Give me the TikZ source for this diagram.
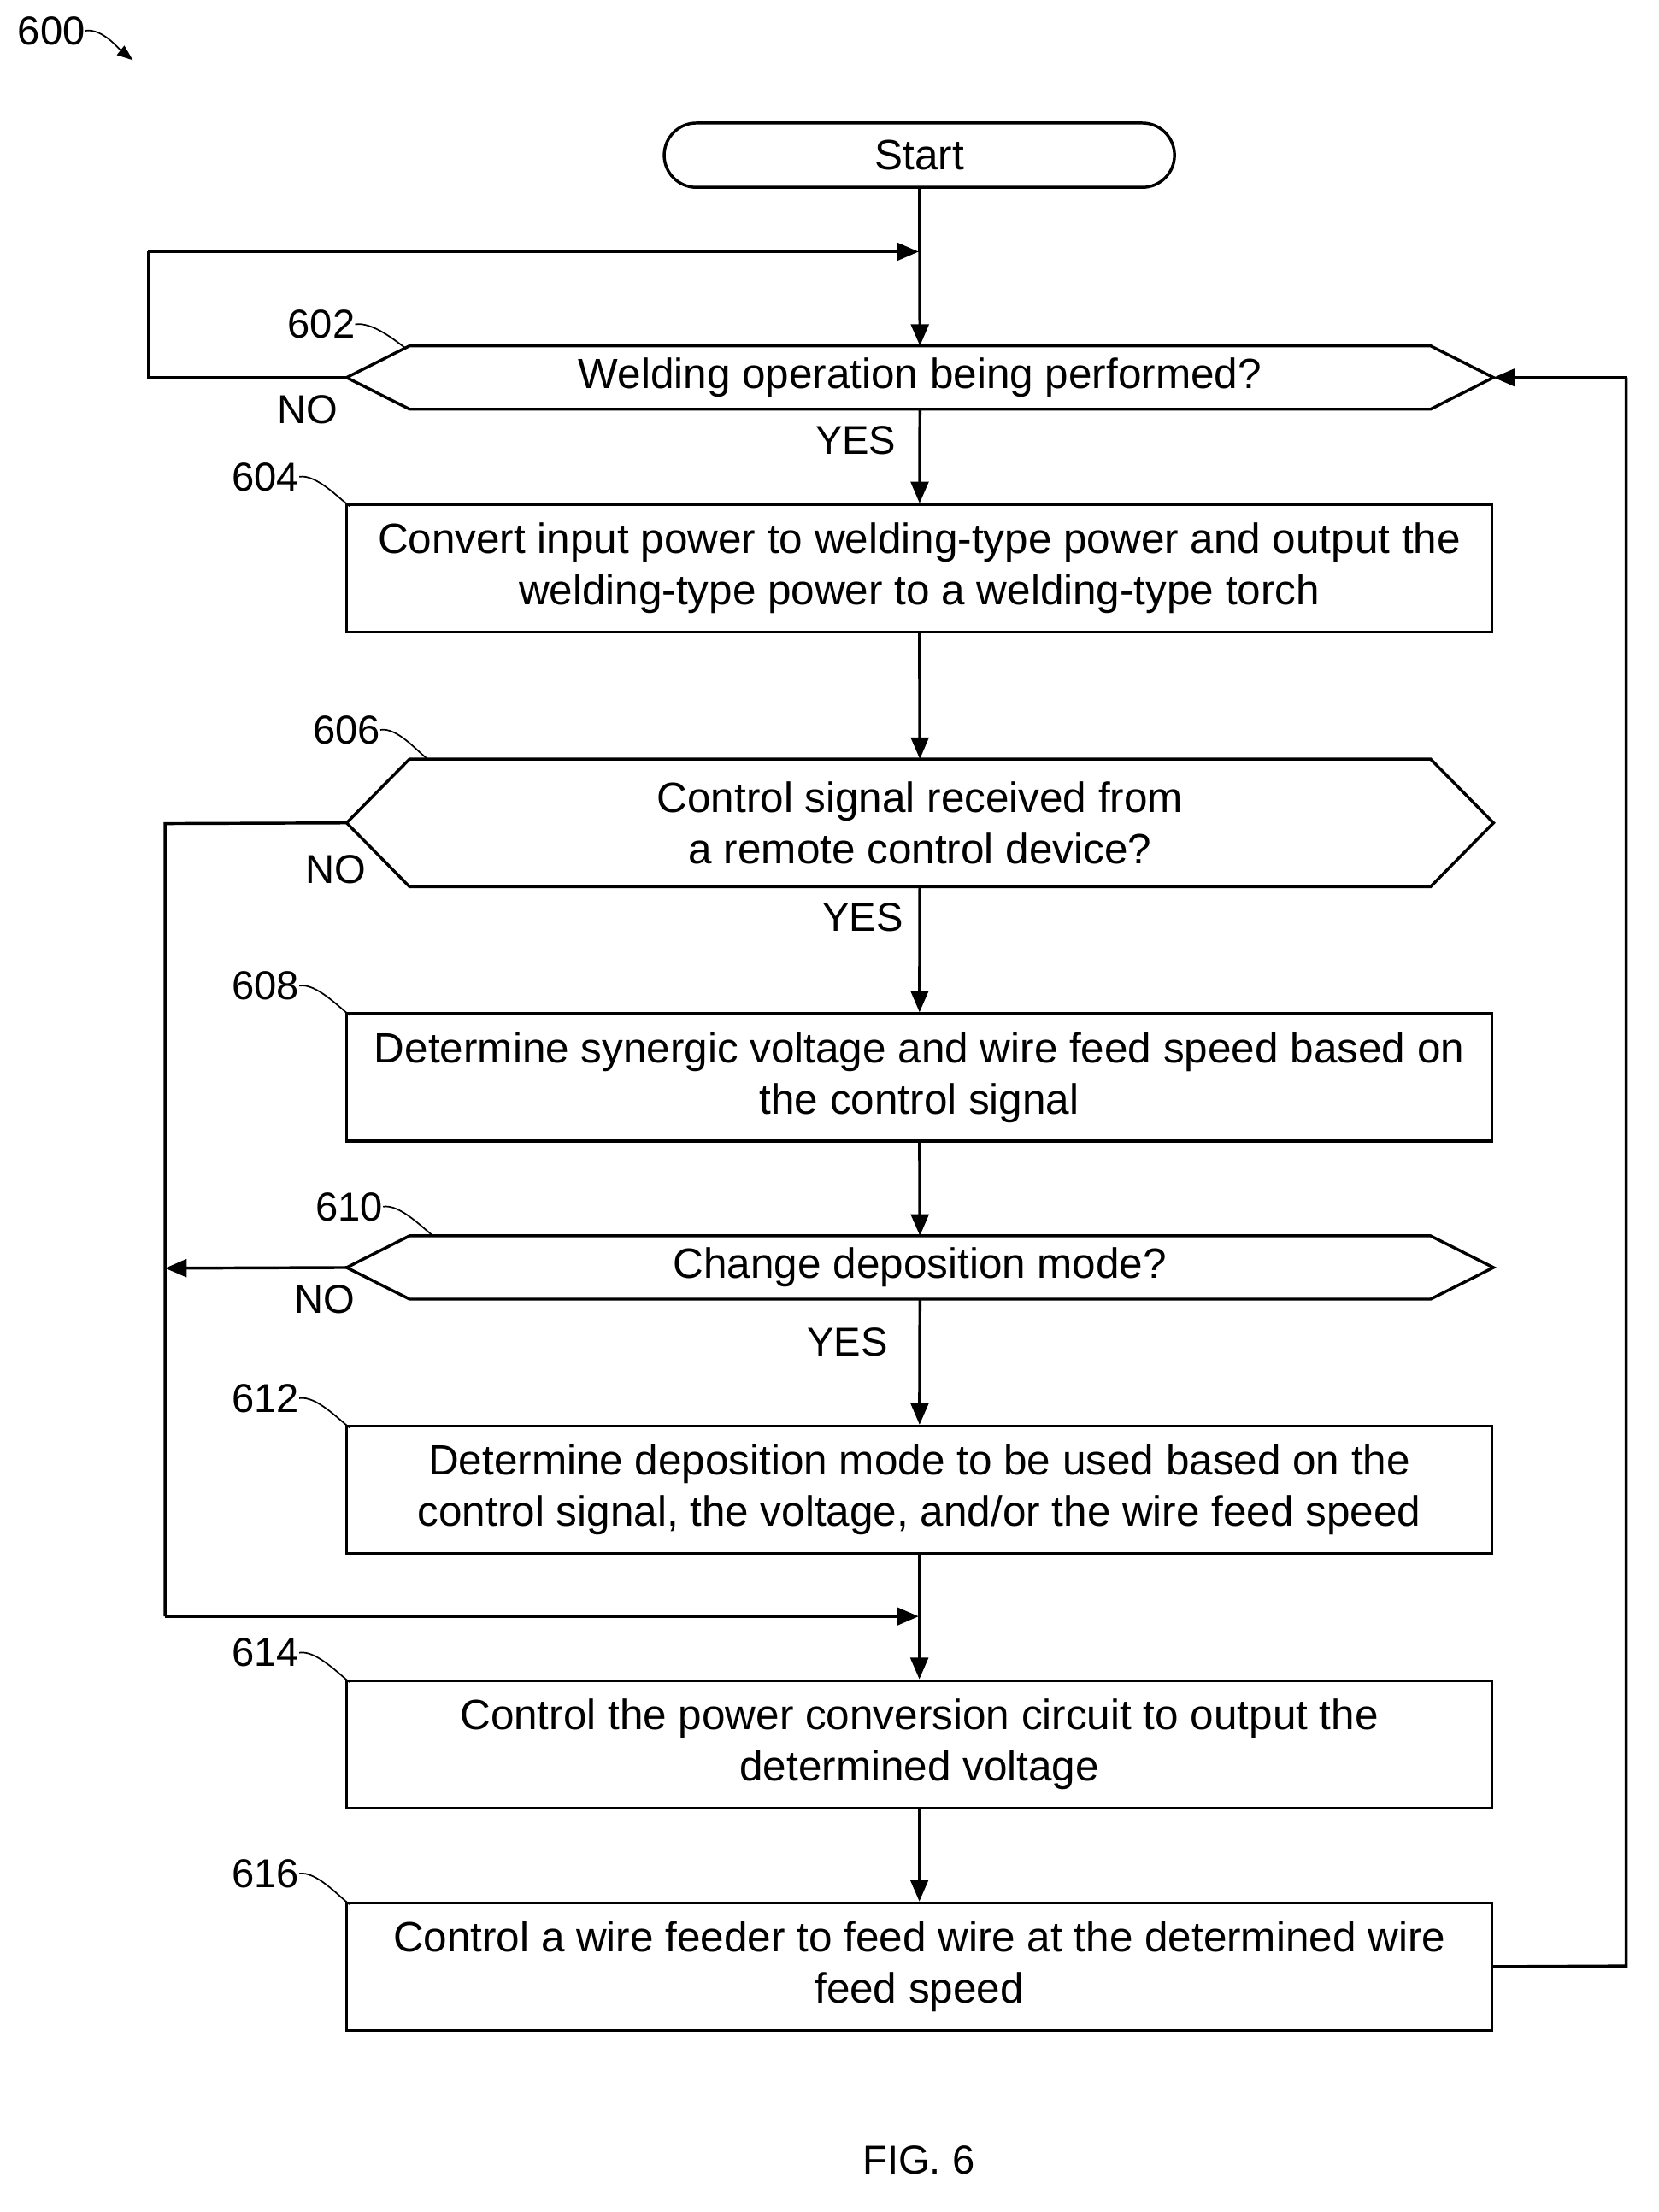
\documentclass[tikz,border=0pt]{standalone}
\usepackage{fontspec}
\setmainfont{Liberation Sans}
\usetikzlibrary{calc,arrows.meta}
\begin{document}
\begin{tikzpicture}[x=0.05cm,y=-0.05cm,
  lw/.style={line width=3pt},
  box/.style={draw,lw,rectangle,minimum width=40.95cm,minimum height=4.55cm,align=center,inner sep=0pt,font=\fontsize{43}{52}\selectfont},
  hex/.style={rectangle,minimum width=41cm,align=center,inner sep=0pt,font=\fontsize{43}{52}\selectfont},
  arr/.style={lw,-{Triangle[length=22pt,width=18pt]}},
  lab/.style={font=\fontsize{41}{48}\selectfont},
  tag/.style={font=\fontsize{41}{48}\selectfont,anchor=east,inner sep=0pt}]
\useasboundingbox[fill=white] (0,0) rectangle (1186,1582);
\newcommand{\hexdraw}[1]{\draw[lw] (#1.west) -- ($(#1.north west)+(45,0)$) -- ($(#1.north east)+(-45,0)$) -- (#1.east) -- ($(#1.south east)+(-45,0)$) -- ($(#1.south west)+(45,0)$) -- cycle;}
\newcommand{\squig}[2]{\draw[line width=1.5pt] #1 .. controls +(12,-2) and +(-8,-6) .. #2;}
% nodes
\node[draw,lw,rounded corners=23*0.05cm,minimum width=18.25cm,minimum height=2.3cm,font=\fontsize{43}{52}\selectfont] (start) at (657.5,111) {Start};
\node[hex,minimum height=2.25cm] (d602) at (658,270) {Welding operation being performed?};
\hexdraw{d602}
\node[box] (b604) at (657.5,406.5) {Convert input power to welding-type power and output the\\welding-type power to a welding-type torch};
\node[hex,minimum height=4.55cm] (d606) at (658,588.5) {Control signal received from\\a remote control device?};
\hexdraw{d606}
\node[box] (b608) at (657.5,770.5) {Determine synergic voltage and wire feed speed based on\\the control signal};
\node[hex,minimum height=2.25cm] (d610) at (658,906.5) {Change deposition mode?};
\hexdraw{d610}
\node[box] (b612) at (657.5,1065.5) {Determine deposition mode to be used based on the\\control signal, the voltage, and/or the wire feed speed};
\node[box] (b614) at (657.5,1247.5) {Control the power conversion circuit to output the\\determined voltage};
\node[box] (b616) at (657.5,1406.5) {Control a wire feeder to feed wire at the determined wire\\feed speed};
% coordinates
\coordinate (j1) at (657,180);
\coordinate (j2) at (657,1156);
\coordinate (c1) at (106,270);
\coordinate (c2) at (106,180);
\coordinate (c3) at (118,589);
\coordinate (c4) at (118,1156);
\coordinate (c5) at (118,907);
\coordinate (c6) at (1163,1406);
\coordinate (c7) at (1163,270);
% connectors
\draw[arr] (start) -- (d602);
\draw[arr] (c2) -- (j1);
\draw[lw] (d602.west) -- (c1) -- (c2);
\draw[arr] (d602) -- (b604);
\draw[arr] (b604) -- (d606);
\draw[arr] (d606) -- (b608);
\draw[arr] (b608) -- (d610);
\draw[arr] (d610) -- (b612);
\draw[arr] (b612) -- (b614);
\draw[arr] (b614) -- (b616);
\draw[lw] (d606.west) -- (c3) -- (c4);
\draw[arr] (c4) -- (j2);
\draw[arr] (d610.west) -- (c5);
\draw[lw] (b616.east) -- (c6) -- (c7);
\draw[arr] (c7) -- (d602.east);
% labels
\node[lab] (no1) at (220,293) {NO};
\node[lab] (no2) at (240,622) {NO};
\node[lab] (no3) at (232,929) {NO};
\node[lab] (y1) at (612,315) {YES};
\node[lab] (y2) at (617,656) {YES};
\node[lab] (y3) at (606,960) {YES};
\node[tag] (t602) at (254,232) {602};
\squig{(t602.east)}{(290,249)}
\node[tag] (t604) at (214,341) {604};
\squig{(t604.east)}{(250,362)}
\node[tag] (t606) at (272,522) {606};
\squig{(t606.east)}{(306,543)}
\node[tag] (t608) at (214,705) {608};
\squig{(t608.east)}{(250,726)}
\node[tag] (t610) at (274,863) {610};
\squig{(t610.east)}{(310,884)}
\node[tag] (t612) at (214,1000) {612};
\squig{(t612.east)}{(250,1021)}
\node[tag] (t614) at (214,1182) {614};
\squig{(t614.east)}{(250,1203)}
\node[tag] (t616) at (214,1340) {616};
\squig{(t616.east)}{(250,1362)}
\node[tag] (t600) at (61,22) {600};
\coordinate (a600) at (95,43);
\draw[line width=1.5pt,-{Triangle[length=16pt,width=12pt]}] (t600.east) .. controls +(12,-2) and +(-10,-8) .. (a600);
\node[lab] (fig) at (657,1545) {FIG. 6};
\end{tikzpicture}
\end{document}
